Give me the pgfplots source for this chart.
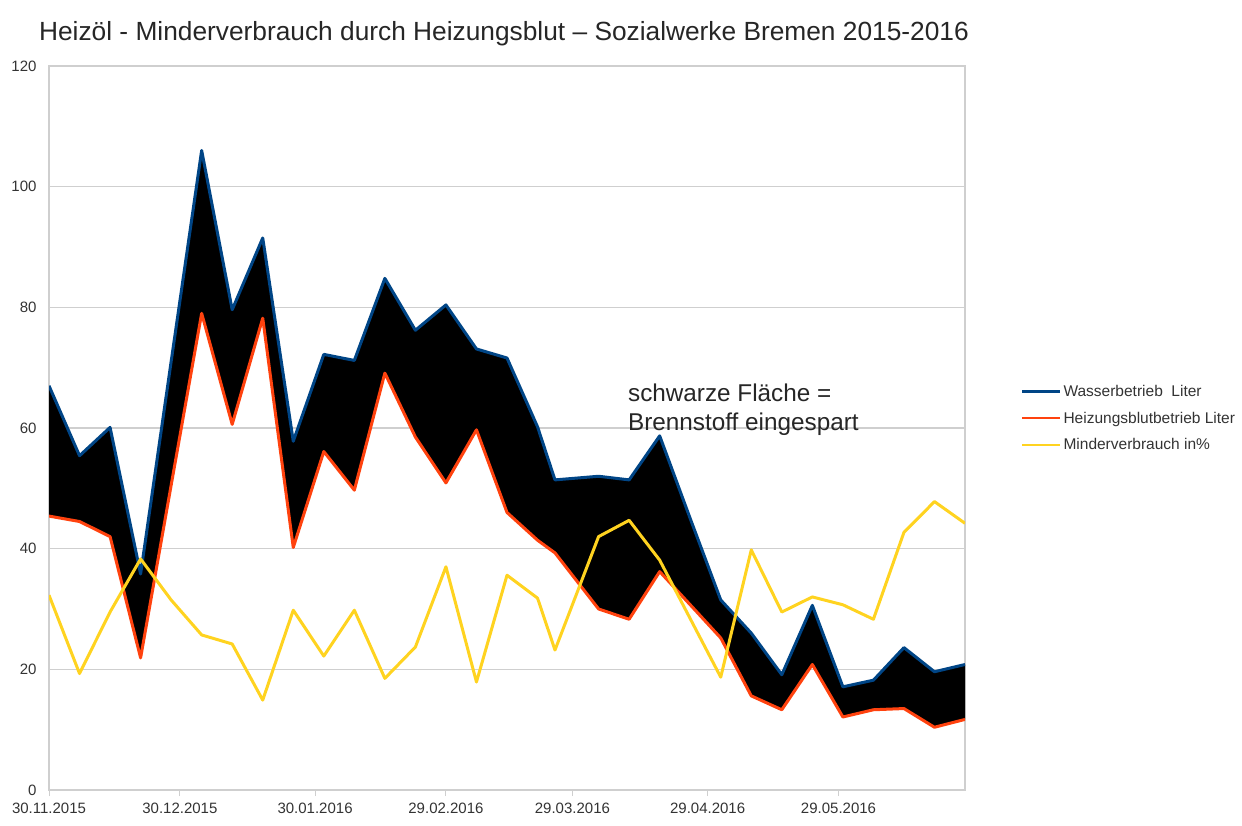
\documentclass[border=0pt]{standalone}
\usepackage{pgfplots}
\pgfplotsset{compat=1.18}
\usepackage{pgfplotstable}
\usepgfplotslibrary{fillbetween}
\usepackage{fontspec}
\setmainfont{Liberation Sans}
\definecolor{wblue}{HTML}{004586}
\definecolor{hred}{HTML}{FF420E}
\definecolor{myel}{HTML}{FFD320}
\definecolor{gridc}{HTML}{CFCFCF}
\pgfplotstableread{
day wasser heiz minder
0   67.0  45.4  32.3
7   55.4  44.5  19.3
14  60.1  42.0  29.5
21  35.8  21.9  38.3
28  71.0  50.5  31.5
35  106.0 79.0  25.7
42  79.6  60.6  24.2
49  91.5  78.2  14.9
56  57.8  40.2  29.8
63  72.2  56.1  22.2
70  71.2  49.7  29.8
77  84.8  69.1  18.5
84  76.2  58.5  23.7
91  80.4  50.9  37.0
98  73.1  59.7  17.9
105 71.6  46.0  35.6
112 60.2  41.4  31.8
116 51.4  39.3  23.2
126 52.0  30.0  42.0
133 51.4  28.3  44.7
140 58.7  36.2  38.1
147 45.0  30.7  28.4
154 31.5  25.2  18.7
161 26.0  15.6  39.8
168 19.1  13.3  29.5
175 30.6  20.8  32.0
182 17.1  12.1  30.7
189 18.2  13.3  28.3
196 23.6  13.5  42.7
203 19.6  10.4  47.8
210 20.8  11.7  44.2
}\datatable
\begin{document}
\begin{tikzpicture}
\path (0pt,0pt) rectangle (1242pt,825pt);
\node[font=\fontsize{26.3}{30}\selectfont, text=black!85] at (504pt,791pt) {Heizöl - Minderverbrauch durch Heizungsblut – Sozialwerke Bremen 2015-2016};
\begin{axis}[
  at={(49pt,35pt)}, anchor=south west,
  scale only axis, width=916pt, height=724pt,
  xmin=0, xmax=210, ymin=0, ymax=120,
  xtick={0,30,61,91,120,151,181},
  xticklabels={30.11.2015,30.12.2015,30.01.2016,29.02.2016,29.03.2016,29.04.2016,29.05.2016},
  ytick={0,20,40,60,80,100,120},
  xtick pos=lower, ytick pos=left,
  /pgf/number format/assume math mode=true,
  ymajorgrids, grid style={gridc, line width=1.3pt},
  axis line style={gridc, line width=1.3pt},
  tick align=outside, major tick length=6pt,
  xtick style={gridc, line width=1pt},
  ytick style={draw=none},
  tick label style={font=\fontsize{15}{17}\selectfont, text=black!80},
  yticklabel style={xshift=-3pt},
  xticklabel style={yshift=-3pt},
  legend style={at={(1.058,0.565)}, anchor=north west, draw=none, fill=none,
    font=\fontsize{15.5}{18}\selectfont, text=black!80, row sep=10pt,
    legend cell align=left},
  legend image code/.code={\draw[#1, line width=2.2pt] (0pt,0pt) -- (38pt,0pt);},
]
\addplot[draw=none, name path=W, forget plot] table[x=day, y=wasser] {\datatable};
\addplot[draw=none, name path=H, forget plot] table[x=day, y=heiz] {\datatable};
\addplot[fill=black, forget plot] fill between[of=W and H];
\addplot[wblue, line width=3pt, line join=round] table[x=day, y=wasser] {\datatable};
\addlegendentry{Wasserbetrieb\ \ Liter}
\addplot[hred, line width=3pt, line join=round] table[x=day, y=heiz] {\datatable};
\addlegendentry{Heizungsblutbetrieb Liter}
\addplot[myel, line width=3pt, line join=round] table[x=day, y=minder] {\datatable};
\addlegendentry{Minderverbrauch in\%}
\node[anchor=north west, align=left, font=\fontsize{24.3}{28.5}\selectfont, text=black!85, inner sep=0pt]
  at (rel axis cs:0.632,0.561) {schwarze Fläche =\\Brennstoff eingespart};
\end{axis}
\end{tikzpicture}
\end{document}
